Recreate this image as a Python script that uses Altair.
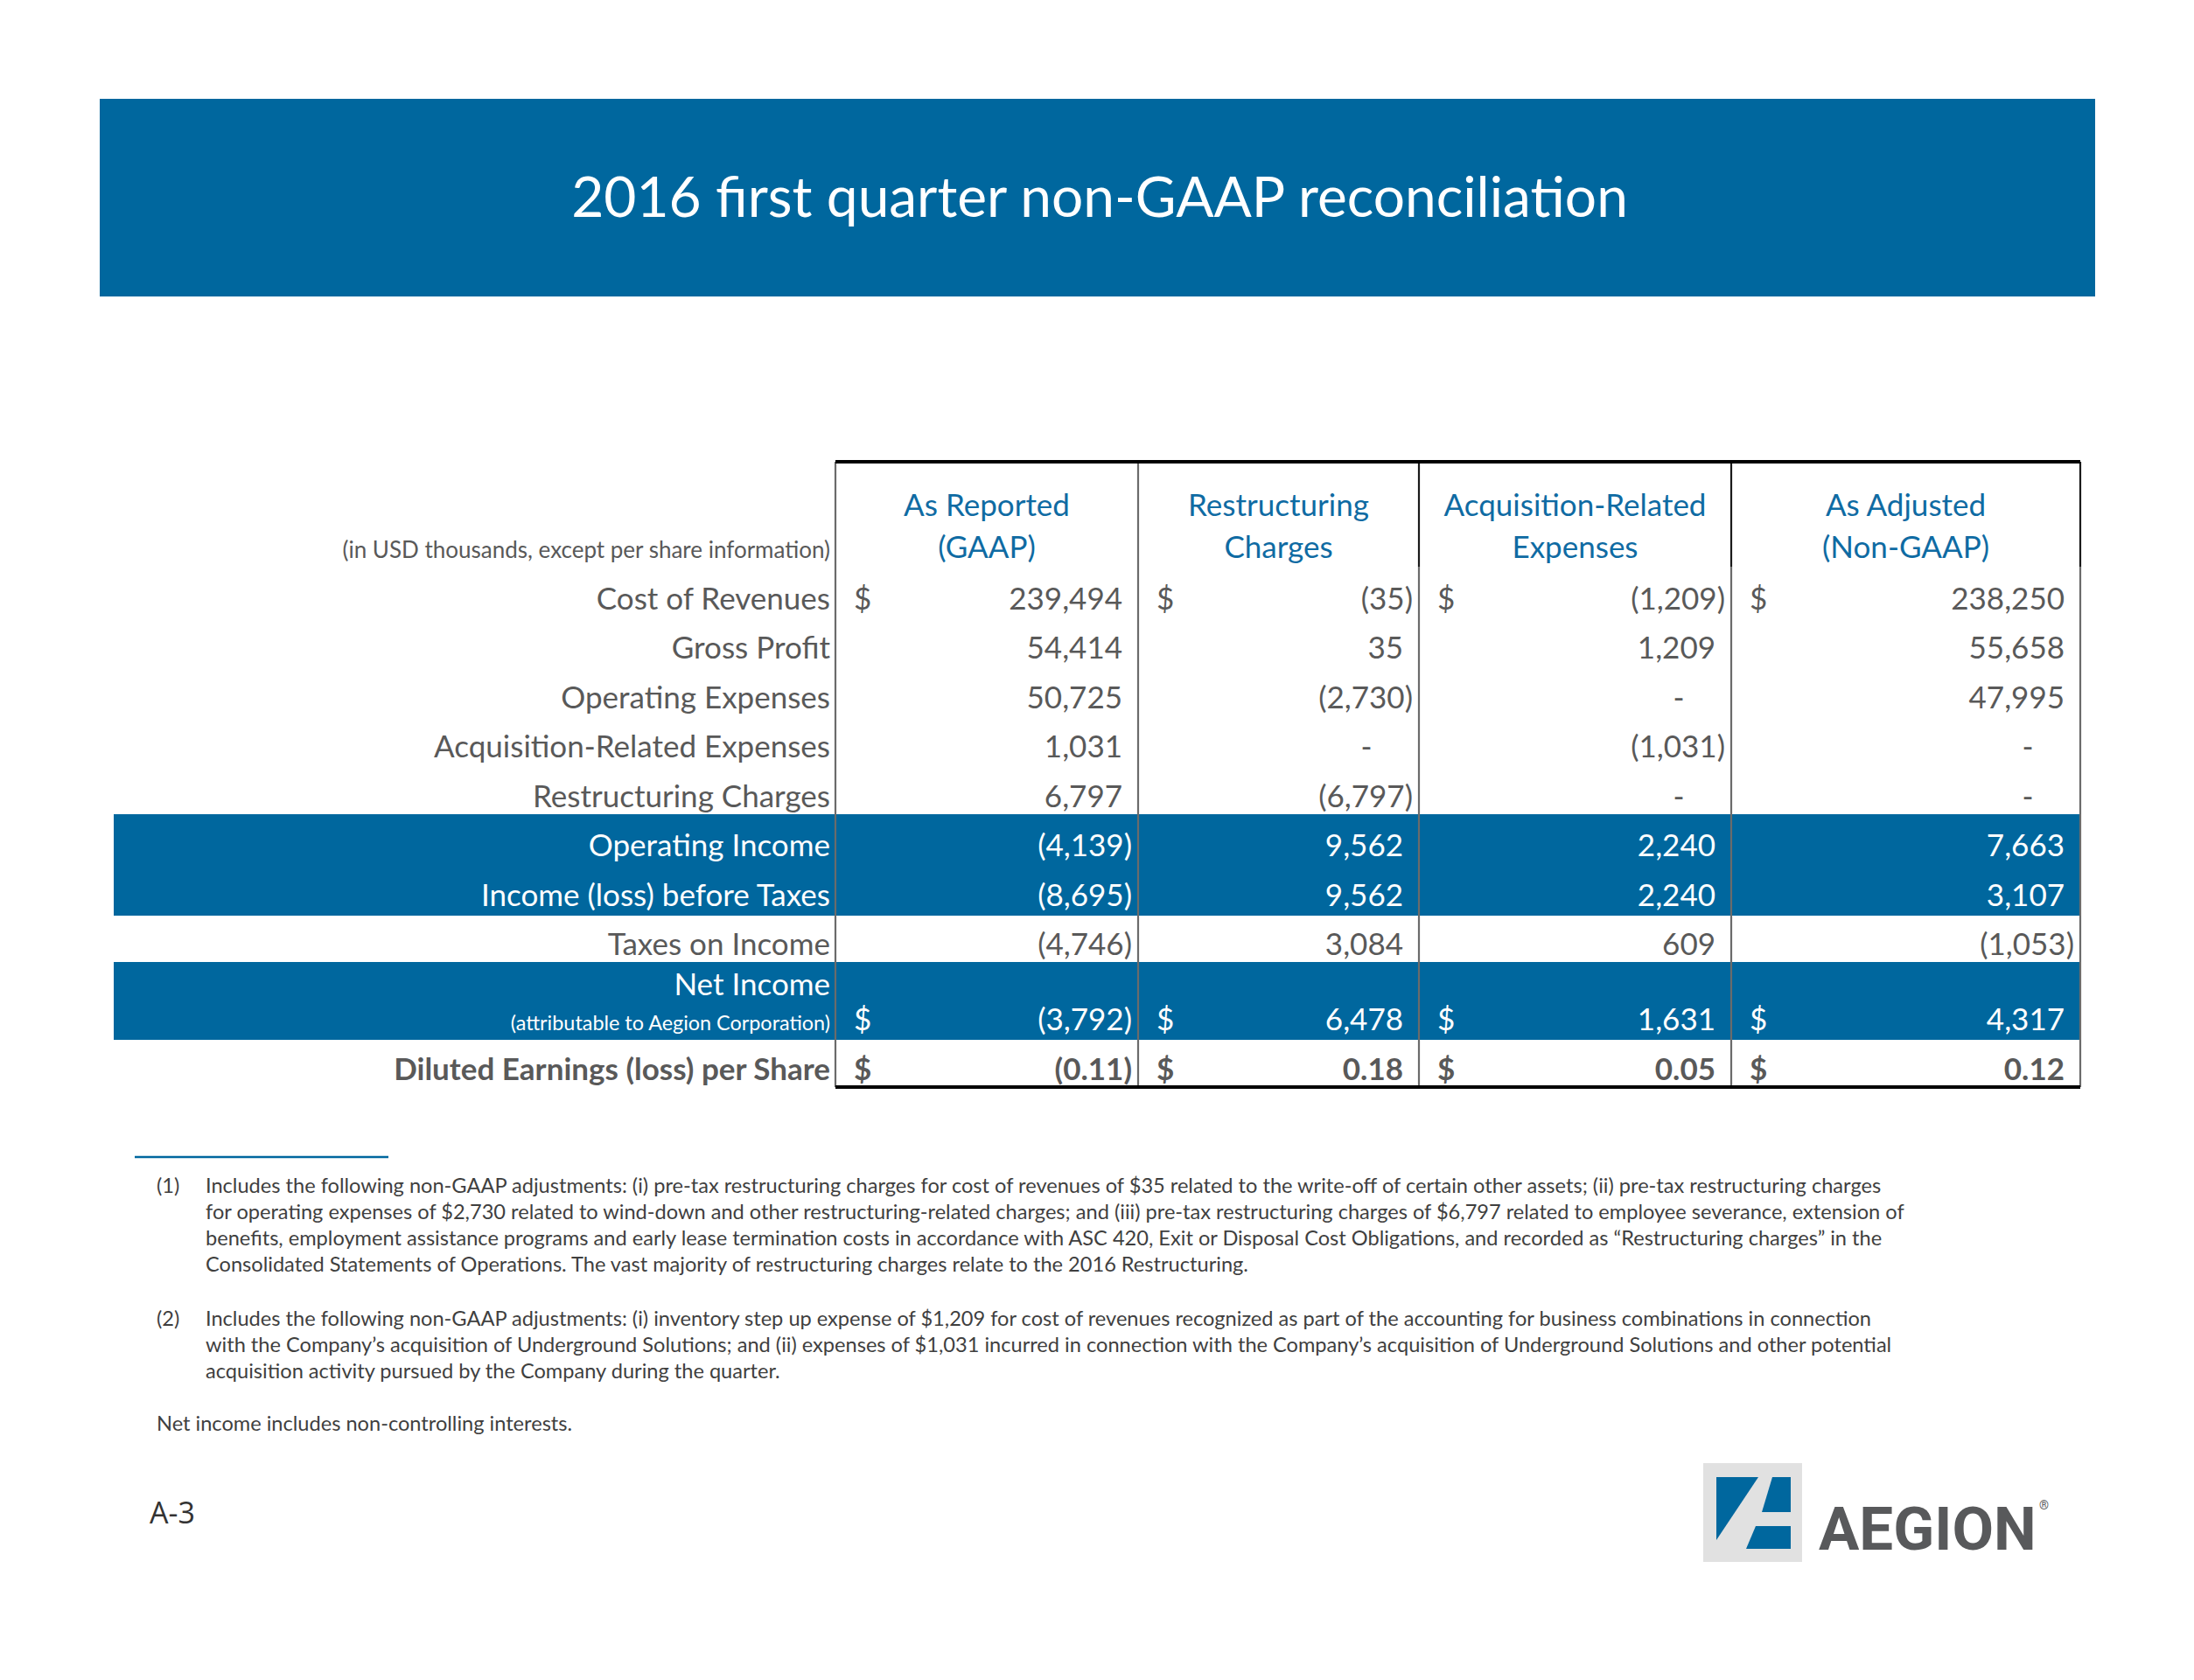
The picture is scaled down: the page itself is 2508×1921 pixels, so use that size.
import altair as alt
import pandas as pd

# ------------------------------------------------------------------ data
title = "2016 first quarter non-GAAP reconciliation"
units_note = "(in USD thousands, except per share information)"
col_headers = [["As Reported", "(GAAP)"], ["Restructuring", "Charges"],
               ["Acquisition-Related", "Expenses"], ["As Adjusted", "(Non-GAAP)"]]
row_labels = ["Cost of Revenues", "Gross Profit", "Operating Expenses",
              "Acquisition-Related Expenses", "Restructuring Charges",
              "Operating Income", "Income (loss) before Taxes", "Taxes on Income",
              "Net Income", "Diluted Earnings (loss) per Share"]
net_income_sub = "(attributable to Aegion Corporation)"
as_reported = [239494, 54414, 50725, 1031, 6797, -4139, -8695, -4746, -3792, -0.11]
restructuring = [-35, 35, -2730, 0, -6797, 9562, 9562, 3084, 6478, 0.18]
acquisition = [-1209, 1209, 0, -1031, 0, 2240, 2240, 609, 1631, 0.05]
as_adjusted = [238250, 55658, 47995, 0, 0, 7663, 3107, -1053, 4317, 0.12]
dollar_rows = [0, 8, 9]
band_rows = [5, 6, 8]
eps_row = 9
footnote_marks = ["(1)", "(2)"]
footnote_1 = [
    "Includes the following non-GAAP adjustments: (i) pre-tax restructuring charges for cost of revenues of $35 related to the write-off of certain other assets; (ii) pre-tax restructuring charges",
    "for operating expenses of $2,730 related to wind-down and other restructuring-related charges; and (iii) pre-tax restructuring charges of $6,797 related to employee severance, extension of",
    "benefits, employment assistance programs and early lease termination costs in accordance with ASC 420, Exit or Disposal Cost Obligations, and recorded as \u201cRestructuring charges\u201d in the",
    "Consolidated Statements of Operations.  The vast majority of restructuring charges relate to the 2016 Restructuring.",
]
footnote_2 = [
    "Includes the following non-GAAP adjustments: (i) inventory step up expense of $1,209 for cost of revenues recognized as part of the accounting for business combinations in connection",
    "with the Company\u2019s acquisition of Underground Solutions; and (ii) expenses of $1,031 incurred in connection with the Company\u2019s acquisition of Underground Solutions and other potential",
    "acquisition activity pursued by the Company during the quarter.",
]
footnote_3 = "Net income includes non-controlling interests."
page_label = "A-3"
brand = "AEGION"

# ------------------------------------------------------------------ layout / style
FONT = "Lato"
BLUE = "#00679E"
HEAD_BLUE = "#0F6BA3"
GREY_TXT = "#595959"
NOTE_TXT = "#3f3f3f"
W, H = 2492, 1905
XS = alt.Scale(domain=[8, 8 + W], nice=False, zero=False)
YS = alt.Scale(domain=[8, 8 + H], nice=False, zero=False, reverse=True)

col_edges = [955, 1301, 1622, 1979, 2378]
table_top, header_bottom, table_bottom = 528, 648, 1243
row_tops = [648, 705, 761, 818, 874, 931, 989, 1047, 1100, 1189]
row_bottoms = row_tops[1:] + [table_bottom]
row_base = [697, 753, 810, 866, 923, 979, 1036, 1092, 1178, 1235]
BODY = 35


def X(f="x"):
    return alt.X(f"{f}:Q", scale=XS, axis=None)


def Y(f="y"):
    return alt.Y(f"{f}:Q", scale=YS, axis=None)


def text_layer(rows, align="left", weight="normal", font=FONT):
    df = pd.DataFrame(rows, columns=["x", "y", "text", "color", "size"])
    return alt.Chart(df).mark_text(align=align, baseline="alphabetic", font=font,
                                   fontWeight=weight).encode(
        x=X(), y=Y(), text="text:N",
        color=alt.Color("color:N", scale=None),
        size=alt.Size("size:Q", scale=None))


def fmt(v, eps):
    if v == 0:
        return "-"
    s = f"{abs(v):,.2f}" if eps else f"{abs(v):,.0f}"
    return f"({s})" if v < 0 else s


layers = []

# banner
rects = [(114, 2395, 113, 339, BLUE)]
# blue row bands
band_groups = [(5, 6), (8, 8)]
for a, b in band_groups:
    rects.append((130, col_edges[-1], row_tops[a], row_bottoms[b], BLUE))
# logo square
rects.append((1947, 2060, 1673, 1786, "#E1E1E1"))
rdf = pd.DataFrame(rects, columns=["x", "x2", "y", "y2", "color"])
layers.append(alt.Chart(rdf).mark_rect().encode(
    x=X(), x2="x2:Q", y=Y(), y2="y2:Q", color=alt.Color("color:N", scale=None)))

# rules: verticals, borders, footnote rule
rules = []
for i, xe in enumerate(col_edges):
    rules.append((xe, xe, table_top, header_bottom, "#1a1a1a" if i >= 2 else "#6b6b6b", 2.2))
    rules.append((xe, xe, header_bottom, table_bottom, "#6b6b6b", 2.2))
rules.append((col_edges[0], col_edges[-1], table_top, table_top, "#000000", 4))
rules.append((col_edges[0], col_edges[-1], table_bottom, table_bottom, "#000000", 4))
rules.append((154, 444, 1323, 1323, BLUE, 2.5))
ldf = pd.DataFrame(rules, columns=["x", "x2", "y", "y2", "color", "size"])
layers.append(alt.Chart(ldf).mark_rule().encode(
    x=X(), x2="x2:Q", y=Y(), y2="y2:Q",
    color=alt.Color("color:N", scale=None), size=alt.Size("size:Q", scale=None)))

# logo shapes
tri = pd.DataFrame({"x": [1962, 2010], "y": [1689, 1689], "y2": [1761, 1689]})
layers.append(alt.Chart(tri).mark_area(color=BLUE, orient="vertical").encode(
    x=X(), y=Y(), y2="y2:Q"))
for pts in ([(1689, 2026, 2047), (1729, 2014, 2047)], [(1745, 2007, 2047), (1771, 1996, 2047)]):
    q = pd.DataFrame(pts, columns=["y", "x", "x2"])
    layers.append(alt.Chart(q).mark_area(color=BLUE, orient="horizontal").encode(
        y=Y(), x=X(), x2="x2:Q"))

# title
layers.append(text_layer([(1257, 248, title, "#ffffff", 64)], align="center"))

# header
hdr = []
for i, (l1, l2) in enumerate(col_headers):
    cx = (col_edges[i] + col_edges[i + 1]) / 2
    hdr.append((cx, 590, l1, HEAD_BLUE, BODY))
    hdr.append((cx, 638, l2, HEAD_BLUE, BODY))
layers.append(text_layer(hdr, align="center"))
layers.append(text_layer([(949, 638, units_note, GREY_TXT, 26)], align="right"))

# row labels
lab_n, lab_b = [], []
for r, lab in enumerate(row_labels):
    col = "#ffffff" if r in band_rows else GREY_TXT
    yb = 1138 if r == 8 else row_base[r]
    (lab_b if r == eps_row else lab_n).append((949, yb, lab, col, BODY))
lab_n.append((949, row_base[8], net_income_sub, "#ffffff", 23.4))
layers.append(text_layer(lab_n, align="right"))
layers.append(text_layer(lab_b, align="right", weight="bold"))

# values
series = [as_reported, restructuring, acquisition, as_adjusted]
val_r = {"normal": [], "bold": []}
val_c = {"normal": [], "bold": []}
dollars = {"normal": [], "bold": []}
for c, vals in enumerate(series):
    right = col_edges[c + 1]
    left = col_edges[c]
    for r, v in enumerate(vals):
        w = "bold" if r == eps_row else "normal"
        colr = "#ffffff" if r in band_rows else GREY_TXT
        s = fmt(v, r == eps_row)
        if s == "-":
            val_c[w].append((right - 60, row_base[r], s, colr, BODY))
        elif s.startswith("("):
            val_r[w].append((right - 7, row_base[r], s, colr, BODY))
        else:
            val_r[w].append((right - 18, row_base[r], s, colr, BODY))
        if r in dollar_rows:
            dollars[w].append((left + 21, row_base[r], "$", colr, BODY))
for w in ("normal", "bold"):
    if val_r[w]:
        layers.append(text_layer(val_r[w], align="right", weight=w))
    if val_c[w]:
        layers.append(text_layer(val_c[w], align="center", weight=w))
    if dollars[w]:
        layers.append(text_layer(dollars[w], align="left", weight=w))

# footnotes
FN = 23.6
notes = [(179, 1364, footnote_marks[0], NOTE_TXT, FN), (179, 1516, footnote_marks[1], NOTE_TXT, FN)]
for i, line in enumerate(footnote_1):
    notes.append((235, 1364 + 30 * i, line, NOTE_TXT, FN))
for i, line in enumerate(footnote_2):
    notes.append((235, 1516 + 30 * i, line, NOTE_TXT, FN))
notes.append((179, 1636, footnote_3, NOTE_TXT, FN))
layers.append(text_layer(notes))

# page label and brand
layers.append(text_layer([(171, 1742, page_label, "#333333", 34)], font="Open Sans"))
layers.append(text_layer([(2079, 1772, brand, "#58595B", 69)], weight="bold", font="Roboto"))
layers.append(text_layer([(2331, 1726, "\u00ae", "#58595B", 14)], font="Roboto"))

chart = alt.layer(*layers).properties(
    width=W, height=H, padding=0, autosize=alt.AutoSizeParams(type="none")
).configure_view(stroke=None)

chart.save("out.html", embed_options={"renderer": "svg", "actions": False})
